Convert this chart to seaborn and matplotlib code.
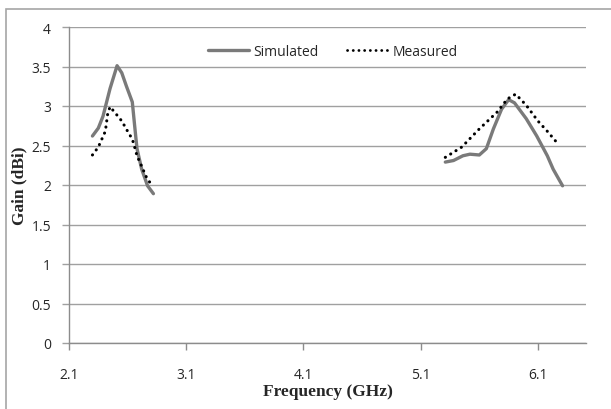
import numpy as np
import pandas as pd
import seaborn as sns
import matplotlib
matplotlib.use("Agg")
import matplotlib.pyplot as plt
from matplotlib.patches import Rectangle

# Simulated gain (two bands)
sim_f1 = [2.30, 2.35, 2.39, 2.45, 2.51, 2.55, 2.59, 2.64, 2.66, 2.68, 2.72, 2.77, 2.82]
sim_g1 = [2.62, 2.72, 2.87, 3.22, 3.51, 3.42, 3.25, 3.05, 2.75, 2.46, 2.20, 1.99, 1.89]
sim_f2 = [5.31, 5.38, 5.46, 5.52, 5.60, 5.66, 5.72, 5.79, 5.85, 5.90, 6.00, 6.09, 6.18, 6.23, 6.31]
sim_g2 = [2.29, 2.31, 2.37, 2.39, 2.38, 2.46, 2.71, 2.96, 3.08, 3.04, 2.84, 2.62, 2.37, 2.20, 1.99]

# Measured gain (two bands)
mea_f1 = [2.30, 2.35, 2.38, 2.41, 2.43, 2.45, 2.49, 2.55, 2.60, 2.64, 2.66, 2.68, 2.71, 2.76, 2.80]
mea_g1 = [2.38, 2.48, 2.58, 2.68, 2.90, 2.99, 2.92, 2.81, 2.68, 2.58, 2.48, 2.37, 2.27, 2.10, 2.01]
mea_f2 = [5.31, 5.45, 5.60, 5.75, 5.84, 5.91, 6.00, 6.10, 6.18, 6.26]
mea_g2 = [2.35, 2.48, 2.71, 2.92, 3.09, 3.15, 3.01, 2.81, 2.68, 2.54]

x_ticks = [2.1, 3.1, 4.1, 5.1, 6.1]
y_ticks = [0, 0.5, 1, 1.5, 2, 2.5, 3, 3.5, 4]
y_tick_labels = ["0", "0.5", "1", "1.5", "2", "2.5", "3", "3.5", "4"]

sim_df = pd.concat([
    pd.DataFrame({"f": sim_f1, "g": sim_g1, "band": 1}),
    pd.DataFrame({"f": sim_f2, "g": sim_g2, "band": 2}),
])
mea_df = pd.concat([
    pd.DataFrame({"f": mea_f1, "g": mea_g1, "band": 1}),
    pd.DataFrame({"f": mea_f2, "g": mea_g2, "band": 2}),
])

sns.set_style("white")
plt.rcParams["font.family"] = ["Open Sans", "DejaVu Sans"]

W, H = 611, 410
fig = plt.figure(figsize=(W / 100, H / 100), dpi=100)
ax = fig.add_axes([69 / W, 1 - 344 / H, (586 - 69) / W, (344 - 28) / H])

# outer chart border
fig.patches.append(Rectangle((6 / W, -0.2), 2, 1.2 - 10 / H, transform=fig.transFigure,
                             fill=False, edgecolor="#a6a6a6", linewidth=1.2))

sim_color = "#7a7a7a"
mea_style = (0, (0.05, 2.0))
sns.lineplot(data=sim_df, x="f", y="g", units="band", estimator=None, sort=False,
             color=sim_color, linewidth=2.4, ax=ax)
sns.lineplot(data=mea_df, x="f", y="g", units="band", estimator=None, sort=False,
             color="black", linewidth=2.2, linestyle=mea_style, ax=ax)
for ln in ax.get_lines():
    ln.set_solid_capstyle("round")
    ln.set_solid_joinstyle("round")
    ln.set_dash_capstyle("round")

sim_handle = plt.Line2D([], [], color=sim_color, linewidth=2.4)
mea_handle = plt.Line2D([], [], color="black", linewidth=2.0, linestyle=mea_style,
                        dash_capstyle="round")

ax.set_xlim(2.1, 6.51)
ax.set_ylim(0, 4)
ax.set_xticks(x_ticks)
ax.set_xticklabels([f"{v:.1f}" for v in x_ticks])
ax.set_yticks(y_ticks)
ax.set_yticklabels(y_tick_labels)
ax.yaxis.grid(True, color="#a0a0a0", linewidth=1.0)
ax.xaxis.grid(False)
ax.set_axisbelow(True)
for s in ["top", "right"]:
    ax.spines[s].set_visible(False)
for s in ["left", "bottom"]:
    ax.spines[s].set_color("#8c8c8c")
    ax.spines[s].set_linewidth(1.0)
ax.tick_params(axis="x", direction="out", length=5, color="#8c8c8c", width=1,
               labelsize=10, pad=12, bottom=True)
ax.tick_params(axis="y", direction="out", length=5, color="#a0a0a0", width=1,
               labelsize=10, pad=8, left=True)

ax.set_xlabel("Frequency (GHz)", family=["Liberation Serif", "DejaVu Serif"],
              fontweight="bold", fontsize=12.5, labelpad=1)
ax.set_ylabel("Gain (dBi)", family=["Liberation Serif", "DejaVu Serif"],
              fontweight="bold", fontsize=12.5, labelpad=3)

ax.legend([sim_handle, mea_handle], ["Simulated", "Measured"],
          loc="upper center", bbox_to_anchor=(0.51, 0.985), ncol=2, frameon=False,
          fontsize=10, handlelength=3.0, handletextpad=0.3, columnspacing=2.0)

fig.savefig("out.png", dpi=100)
